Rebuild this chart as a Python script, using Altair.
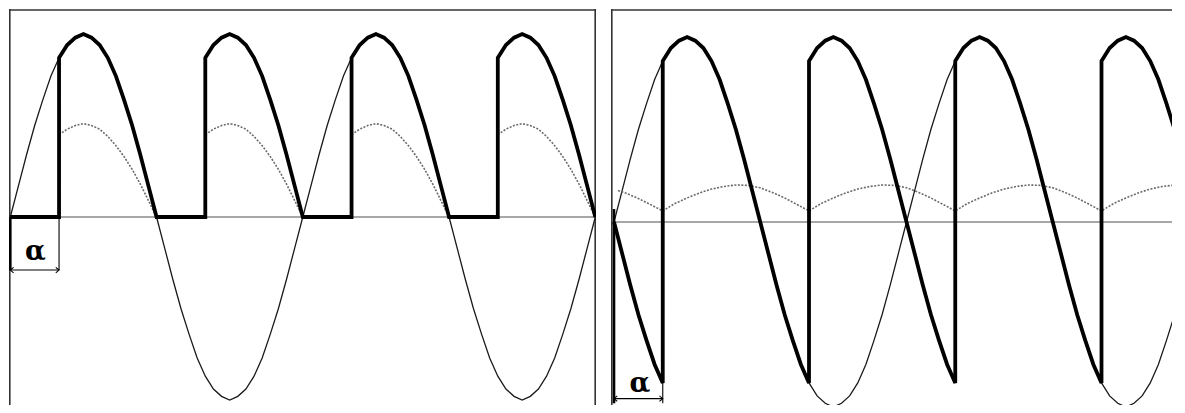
import altair as alt
import pandas as pd

# ---- data (angles in degrees, values relative to source peak) ----
DEG = list(range(0, 721, 10))
SRC = [0, .17, .34, .5, .64, .77, .87, .94, .98, 1, .98, .94, .87, .77, .64, .5, .34, .17,
       0, -.17, -.34, -.5, -.64, -.77, -.87, -.94, -.98, -1, -.98, -.94, -.87, -.77, -.64, -.5, -.34, -.17,
       0, .17, .34, .5, .64, .77, .87, .94, .98, 1, .98, .94, .87, .77, .64, .5, .34, .17,
       0, -.17, -.34, -.5, -.64, -.77, -.87, -.94, -.98, -1, -.98, -.94, -.87, -.77, -.64, -.5, -.34, -.17,
       0]
ALPHA = 60
HALF_STARTS = [0, 180, 360, 540]

L_CUR_OFF = [60, 70, 80, 90, 100, 110, 120, 130, 140, 150, 160, 170, 180]
L_CUR = [.45, .48, .50, .51, .50, .48, .44, .39, .33, .26, .18, .09, 0]

R_CUR_DEG = [5, 15, 30, 45] + list(range(60, 706, 15))
R_CUR = [.17, .155, .127, .094,
         .06, .10, .13, .157, .178, .192, .20, .198, .185, .16, .13, .095,
         .06, .10, .13, .157, .178, .192, .20, .198, .185, .16, .13, .095,
         .06, .10, .13, .157, .178, .192, .20, .198, .185, .16, .13, .095,
         .06, .10, .13, .157, .178, .192, .20, .198]

R_SEGS = [(0, 60, -1), (60, 240, 1), (240, 420, -1), (420, 600, 1), (600, 720, -1)]

src = dict(zip(DEG, SRC))

src_df = pd.DataFrame({"t": DEG, "v": SRC})

rows = []
for b in HALF_STARTS:
    rows.append((b, 0))
    rows.append((b + ALPHA, 0))
    for d in range(b + ALPHA, b + 181, 10):
        rows.append((d, abs(src[d])))
l_out = pd.DataFrame(rows, columns=["t", "v"])
l_out["i"] = range(len(l_out))

rows = []
for b in HALF_STARTS:
    for o, c in zip(L_CUR_OFF, L_CUR):
        rows.append((b + o, c, b))
l_cur = pd.DataFrame(rows, columns=["t", "v", "g"])
l_cur["i"] = range(len(l_cur))

rows = []
for a, e, s in R_SEGS:
    for d in range(a, e + 1, 10):
        rows.append((d, s * src[d]))
r_out = pd.DataFrame(rows, columns=["t", "v"])
r_out["i"] = range(len(r_out))

r_cur = pd.DataFrame({"t": R_CUR_DEG, "v": R_CUR})
r_cur["i"] = range(len(r_cur))

W1, W2, H = 587, 561, 396
PX = 0.8125
FRAME = "#333333"

def panel(width, x0, zero_px, amp, out_df, cur_df, cur_detail, marker, label, right_frame):
    xdom = [x0, x0 + width / PX]
    ydom = [-(H - zero_px) / amp, zero_px / amp]
    xs = alt.Scale(domain=xdom, nice=False, zero=False)
    ys = alt.Scale(domain=ydom, nice=False, zero=False)
    X = lambda f: alt.X(f, scale=xs, axis=None)
    Y = lambda f: alt.Y(f, scale=ys, axis=None)

    zero = alt.Chart(pd.DataFrame({"a": [max(0, x0)], "b": [xdom[1]], "y": [0]})).mark_rule(
        color="#8a8a8a", strokeWidth=1.6).encode(x=X("a:Q"), x2="b:Q", y=Y("y:Q"))

    frame_top = alt.Chart().mark_rule(color=FRAME, strokeWidth=1.6).encode(
        x=alt.value(0), x2=alt.value(width), y=alt.value(1))
    frame_left = alt.Chart().mark_rule(color=FRAME, strokeWidth=1.6).encode(
        x=alt.value(0.8), y=alt.value(0), y2=alt.value(H))

    sine = alt.Chart(src_df).mark_line(color="#1a1a1a", strokeWidth=1.3, clip=True).encode(
        x=X("t:Q"), y=Y("v:Q"))

    enc = dict(x=X("t:Q"), y=Y("v:Q"), order="i:Q")
    if cur_detail:
        enc["detail"] = "g:N"
    cur = alt.Chart(cur_df).mark_line(color="#6a6a6a", strokeWidth=1.6, strokeDash=[2, 1.5], clip=True).encode(**enc)

    out = alt.Chart(out_df).mark_line(color="#000000", strokeWidth=3.8, clip=True).encode(
        x=X("t:Q"), y=Y("v:Q"), order="i:Q")

    m0top, m1top, m_bot, arr_y = marker
    vlines = alt.Chart(pd.DataFrame({
        "t": [0, ALPHA], "y1": [m0top, m1top], "y2": [m_bot, m_bot], "w": [2.6, 1.1]
    })).mark_rule(color="#000000", clip=True).encode(
        x=X("t:Q"), y=Y("y1:Q"), y2="y2:Q",
        strokeWidth=alt.StrokeWidth("w:Q", scale=None, legend=None))
    arrow = alt.Chart(pd.DataFrame({"a": [0], "b": [ALPHA], "y": [arr_y]})).mark_rule(
        color="#000000", strokeWidth=1.1).encode(x=X("a:Q"), x2="b:Q", y=Y("y:Q"))
    headl = alt.Chart(pd.DataFrame({"t": [0], "y": [arr_y]})).mark_point(
        shape="M1.2,-1L0,0L1.2,1", size=30, filled=False, color="#000000", strokeWidth=1.1, opacity=1
    ).encode(x=X("t:Q"), y=Y("y:Q"))
    headr = alt.Chart(pd.DataFrame({"t": [ALPHA], "y": [arr_y]})).mark_point(
        shape="M-1.2,-1L0,0L-1.2,1", size=30, filled=False, color="#000000", strokeWidth=1.1, opacity=1
    ).encode(x=X("t:Q"), y=Y("y:Q"))
    txt = alt.Chart(pd.DataFrame({"t": [label[0]], "y": [label[1]], "s": ["α"]})).mark_text(
        font="DejaVu Serif", fontWeight="bold", fontSize=27, color="#000000",
        align="center", baseline="middle").encode(x=X("t:Q"), y=Y("y:Q"), text="s:N")

    layers = [zero, frame_top, frame_left]
    if right_frame:
        layers.append(alt.Chart().mark_rule(color=FRAME, strokeWidth=1.6).encode(
            x=alt.value(width - 0.8), y=alt.value(0), y2=alt.value(H)))
    layers += [sine, cur, out, vlines, arrow, headl, headr, txt]
    return alt.layer(*layers).properties(width=width, height=H)

left = panel(W1, -1.6, 208, 183, l_out, l_cur, True,
             (0, 0, -0.29, -0.29), (31, -0.19), True)
right = panel(W2, -3.7, 213, 185, r_out, r_cur, False,
              (0.07, -0.87, -0.98, -0.955), (32, -0.876), False)

chart = alt.hconcat(left, right, spacing=13).properties(padding=0).configure_view(stroke=None)

chart.save("out.html", embed_options={"renderer": "svg", "actions": False})
